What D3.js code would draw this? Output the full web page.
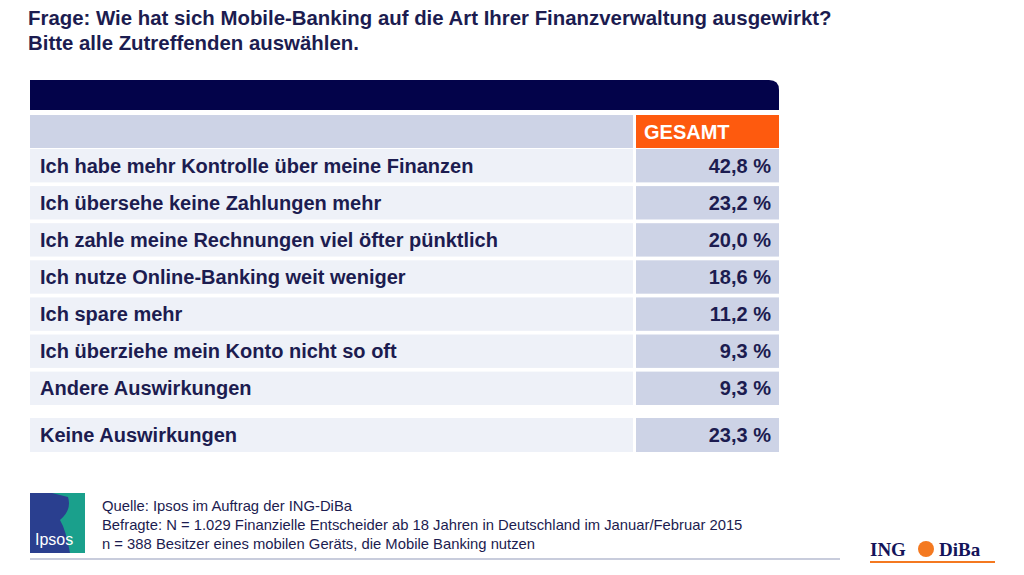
<!DOCTYPE html><html><head><meta charset="utf-8"><script src="https://d3js.org/d3.v7.min.js"></script>
<style>body{margin:0;background:#fff}</style></head><body><svg id="c" width="1024" height="575"></svg>
<script>
const categories=["Ich habe mehr Kontrolle über meine Finanzen","Ich übersehe keine Zahlungen mehr","Ich zahle meine Rechnungen viel öfter pünktlich","Ich nutze Online-Banking weit weniger","Ich spare mehr","Ich überziehe mein Konto nicht so oft","Andere Auswirkungen"];
const values=[42.8,23.2,20.0,18.6,11.2,9.3,9.3];
const extraCategory="Keine Auswirkungen";
const extraValue=23.3;
const columnLabel="GESAMT";
const fmt=v=>d3.format(".1f")(v).replace(".",",")+" %";
const svg=d3.select("#c");
const F="Arial, 'Liberation Sans', sans-serif";
const text="#1c1c50";
svg.append("text").attr("x",28).attr("y",25).attr("font-family",F).attr("font-weight","bold").attr("font-size",20.4).attr("fill",text).text("Frage: Wie hat sich Mobile-Banking auf die Art Ihrer Finanzverwaltung ausgewirkt?");
svg.append("text").attr("x",28).attr("y",50).attr("font-family",F).attr("font-weight","bold").attr("font-size",20.4).attr("fill",text).text("Bitte alle Zutreffenden auswählen.");
svg.append("path").attr("d","M30,80 H769 Q779,80 779,90 V110 H30 Z").attr("fill","#03034a");
const x0=30,xs=633,xv=636,x1=779;
svg.append("rect").attr("x",x0).attr("y",115).attr("width",xs-x0).attr("height",33).attr("fill","#cdd3e6");
svg.append("rect").attr("x",xv).attr("y",115).attr("width",x1-xv).attr("height",33).attr("fill","#fe5a0e");
svg.append("text").attr("x",644).attr("y",139).attr("font-family",F).attr("font-weight","bold").attr("font-size",20).attr("fill","#fff").text(columnLabel);
const y=d3.scaleBand().domain(d3.range(categories.length)).range([149,405]).paddingInner(0.1).paddingOuter(0);
function row(yy,h,label,v){
 svg.append("rect").attr("x",x0).attr("y",yy).attr("width",xs-x0).attr("height",h).attr("fill","#eef1f8");
 svg.append("rect").attr("x",xv).attr("y",yy).attr("width",x1-xv).attr("height",h).attr("fill","#cdd3e6");
 svg.append("text").attr("x",40).attr("y",yy+h/2+7).attr("font-family",F).attr("font-weight","bold").attr("font-size",20).attr("fill",text).text(label);
 svg.append("text").attr("x",771).attr("y",yy+h/2+7).attr("text-anchor","end").attr("font-family",F).attr("font-weight","bold").attr("font-size",20).attr("fill",text).text(fmt(v));
}
categories.forEach((c,i)=>row(y(i),y.bandwidth(),c,values[i]));
row(418,34,extraCategory,extraValue);
const g=svg.append("g");
g.append("rect").attr("x",30).attr("y",493).attr("width",55).attr("height",60).attr("fill","#2a3f8f");
g.append("path").attr("d","M52,493 H85 V553 H70 Q66,530 60,520 Q72,510 68,497 Z").attr("fill","#1aa08c");
g.append("text").attr("x",35).attr("y",545).attr("font-family",F).attr("font-size",16).attr("fill","#fff").text("Ipsos");
const notes=["Quelle: Ipsos im Auftrag der ING-DiBa","Befragte: N = 1.029 Finanzielle Entscheider ab 18 Jahren in Deutschland im Januar/Februar 2015","n = 388 Besitzer eines mobilen Geräts, die Mobile Banking nutzen"];
notes.forEach((t,i)=>g.append("text").attr("x",102).attr("y",511+i*19).attr("font-family",F).attr("font-size",14.8).attr("fill","#1c1c50").text(t));
svg.append("rect").attr("x",30).attr("y",558).attr("width",810).attr("height",2).attr("fill","#c8ccdc");
svg.append("text").attr("x",870).attr("y",556).attr("font-family","'Liberation Serif',serif").attr("font-weight","bold").attr("font-size",19).attr("fill","#14145a").text("ING");
svg.append("text").attr("x",939).attr("y",556).attr("font-family","'Liberation Serif',serif").attr("font-weight","bold").attr("font-size",19).attr("fill","#14145a").text("DiBa");
svg.append("circle").attr("cx",926).attr("cy",549).attr("r",8).attr("fill","#f47920");
svg.append("rect").attr("x",870).attr("y",561).attr("width",125).attr("height",2).attr("fill","#f47920");
</script></body></html>
